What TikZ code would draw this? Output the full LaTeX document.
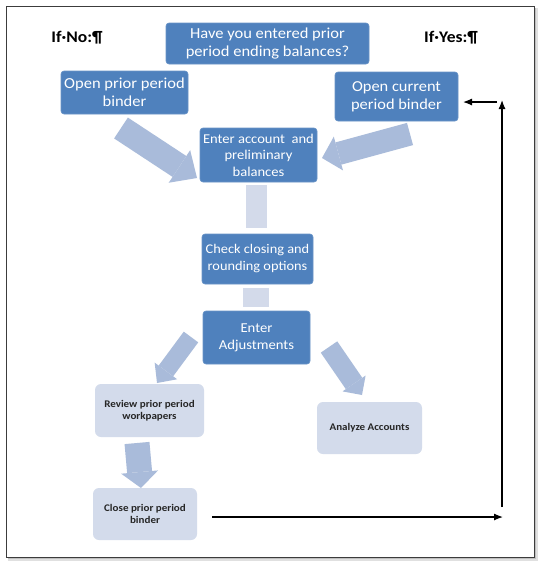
\documentclass[tikz,border=0pt]{standalone}
\usepackage{fontspec}
\setmainfont{Carlito}[FakeStretch=1.08]
\usetikzlibrary{arrows.meta}
\definecolor{boxblue}{HTML}{4F81BD}
\definecolor{boxlight}{HTML}{D3DBEB}
\definecolor{fatarrow}{HTML}{A9BBDA}
\definecolor{linkblock}{HTML}{D3DAEA}
\definecolor{framegray}{HTML}{3C3C3C}
\tikzset{
  darkbox/.style={fill=boxblue, draw=boxblue!85!white, line width=0.6pt, rounded corners=3pt,
    text=white, align=center, inner sep=0pt, font=\fontsize{14}{18}\selectfont},
  lightbox/.style={fill=boxlight, rounded corners=6pt, text=black!85, align=center,
    inner sep=0pt, font=\fontsize{10.2}{12}\selectfont\bfseries},
  linkblk/.style={fill=linkblock, inner sep=0pt},
  fat/.style n args={3}{draw=fatarrow, line width=#1,
    -{Triangle[length=#2, width=#3, line width=0pt]}},
  thinarrow/.style={draw=black, line width=1.2pt, -{Latex[length=9pt, width=7pt]}},
  sidelabel/.style={font=\fontsize{16.2}{18}\selectfont\bfseries, text=black, inner sep=0pt}
}
\begin{document}
\begin{tikzpicture}[x=1pt, y=-1pt]
\useasboundingbox (0,0) rectangle (542,563);
% frame with shadow
\fill[black!12] (8,8) rectangle (538,561);
\fill[black!25] (8,8) rectangle (536,559);
\draw[framegray, fill=white, line width=1pt] (6,6) rectangle (534,557);

% labels
\node[sidelabel] (ifno) at (77,38) {If·No:¶};
\node[sidelabel] (ifyes) at (451,38) {If·Yes:¶};

% dark boxes
\node[darkbox, minimum width=203, minimum height=41, font=\fontsize{15.3}{18}\selectfont] (top) at (267.5,43.5)
  {Have you entered prior\\period ending balances?};
\node[darkbox, minimum width=127, minimum height=43, font=\fontsize{15.3}{18}\selectfont] (openprior) at (124.5,92.5)
  {Open prior period\\binder};
\node[darkbox, minimum width=123, minimum height=49, font=\fontsize{15.2}{18}\selectfont] (opencur) at (396.5,96.5)
  {Open current\\period binder};
\node[darkbox, minimum width=117, minimum height=54, font=\fontsize{13.5}{16.5}\selectfont] (account) at (258.5,155)
  {Enter account\ \ and\\preliminary\\balances};
\node[darkbox, minimum width=111, minimum height=50, font=\fontsize{13.3}{17}\selectfont] (check) at (257.5,259)
  {Check closing and\\rounding options};
\node[darkbox, minimum width=107, minimum height=53, font=\fontsize{13.6}{17}\selectfont] (adj) at (256.5,337.5)
  {Enter\\Adjustments};

% light boxes
\node[lightbox, minimum width=109, minimum height=53] (review) at (149.5,410.5)
  {Review prior period\\workpapers};
\node[lightbox, minimum width=105, minimum height=52] (analyze) at (369.5,428)
  {Analyze Accounts};
\node[lightbox, minimum width=104, minimum height=52] (close) at (145,514)
  {Close prior period\\binder};

% link blocks
\node[linkblk, minimum width=21, minimum height=43] (k1) at (256.5,206.5) {};
\node[linkblk, minimum width=26, minimum height=19] (k2) at (256,297.5) {};

% fat arrows
\coordinate (a1s) at (121,128); \coordinate (a1e) at (197,178);
\coordinate (a2s) at (410,134); \coordinate (a2e) at (322,158);
\coordinate (a3s) at (191,337); \coordinate (a3e) at (157,383);
\coordinate (a4s) at (329,347); \coordinate (a4e) at (362,395);
\coordinate (a5s) at (137,443); \coordinate (a5e) at (141,488);
\draw[fat={25pt}{21pt}{39pt}] (a1s) -- (a1e);
\draw[fat={23pt}{17pt}{35pt}] (a2s) -- (a2e);
\draw[fat={18pt}{15pt}{28pt}] (a3s) -- (a3e);
\draw[fat={20pt}{14pt}{28pt}] (a4s) -- (a4e);
\draw[fat={25pt}{16pt}{37pt}] (a5s) -- (a5e);

% thin arrows
\coordinate (t1) at (212,517); \coordinate (t2) at (503,517);
\coordinate (u1) at (502,507); \coordinate (u2) at (502,100);
\coordinate (v1) at (497,102); \coordinate (v2) at (463,102);
\draw[thinarrow] (t1) -- (t2);
\draw[thinarrow] (u1) -- (u2);
\draw[thinarrow] (v1) -- (v2);
\end{tikzpicture}
\end{document}
